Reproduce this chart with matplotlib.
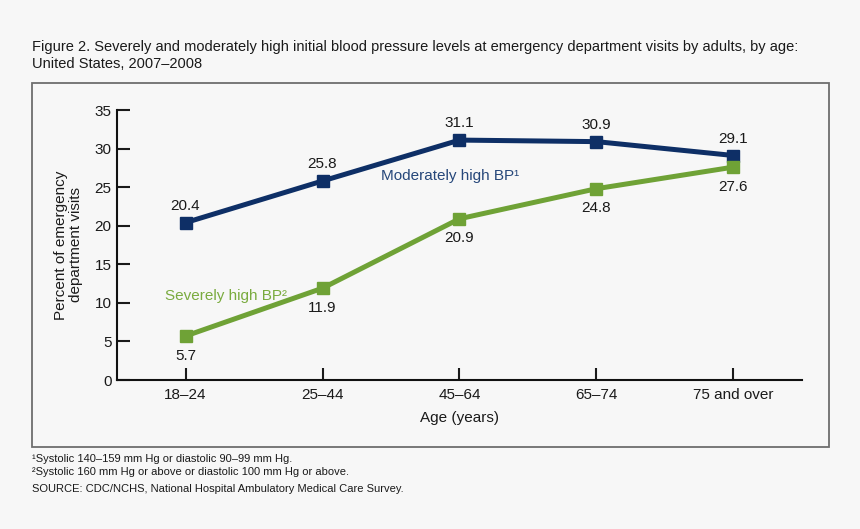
import matplotlib
matplotlib.use("Agg")
import matplotlib.pyplot as plt
from matplotlib.patches import Rectangle

# Data
age_groups = ["18–24", "25–44", "45–64", "65–74", "75 and over"]
moderate = [20.4, 25.8, 31.1, 30.9, 29.1]
severe = [5.7, 11.9, 20.9, 24.8, 27.6]
y_ticks = [0, 5, 10, 15, 20, 25, 30, 35]

navy = "#0e2f66"
green = "#6fa236"
bg = "#f7f7f7"

plt.rcParams['font.family'] = ['Liberation Sans', 'DejaVu Sans']

fig = plt.figure(figsize=(8.6, 5.29), dpi=100, facecolor=bg)

# outer frame box around the plotting region
fig.patches.append(Rectangle((32 / 860, 1 - 447 / 529), (829 - 32) / 860, (447 - 83) / 529,
                             transform=fig.transFigure, fill=False,
                             edgecolor="#6e6e6e", linewidth=1.3))

ax = fig.add_axes([117 / 860, 1 - 380 / 529, (802 - 117) / 860, (380 - 110) / 529])
ax.set_facecolor(bg)

x = list(range(len(age_groups)))
ax.plot(x, moderate, color=navy, linewidth=3.6, marker='s', markersize=9,
        solid_joinstyle='miter', zorder=3)
ax.plot(x, severe, color=green, linewidth=3.6, marker='s', markersize=9,
        solid_joinstyle='miter', zorder=3)

for xi, v in zip(x, moderate):
    ax.annotate(f"{v:.1f}", (xi, v), xytext=(0, 7), textcoords='offset points',
                ha='center', va='bottom', fontsize=11, color="#1a1a1a")
for xi, v in zip(x, severe):
    ax.annotate(f"{v:.1f}", (xi, v), xytext=(0, -9), textcoords='offset points',
                ha='center', va='top', fontsize=11, color="#1a1a1a")

ax.text(1.43, 26.5, "Moderately high BP¹", color="#26477a", fontsize=11,
        ha='left', va='center')
ax.text(-0.15, 10.9, "Severely high BP²", color="#7aab3f", fontsize=11,
        ha='left', va='center')

ax.set_xlim(-0.5, 4.5)
ax.set_ylim(0, 35)
ax.set_xticks(x)
ax.set_xticklabels(age_groups)
ax.set_yticks(y_ticks)
ax.tick_params(direction='in', length=9, width=1.5, labelsize=11, colors="#1a1a1a")
ax.tick_params(axis='x', pad=6)
ax.tick_params(axis='y', pad=4)

for side in ['top', 'right']:
    ax.spines[side].set_visible(False)
for side in ['left', 'bottom']:
    ax.spines[side].set_linewidth(1.5)
    ax.spines[side].set_color("#111111")

ax.set_xlabel("Age (years)", fontsize=11, labelpad=6, color="#1a1a1a")
ax.set_ylabel("Percent of emergency\ndepartment visits", fontsize=11, labelpad=8,
              color="#1a1a1a", linespacing=1.15)

fig.text(32 / 860, 1 - 40 / 529,
         "Figure 2. Severely and moderately high initial blood pressure levels at emergency department visits by adults, by age:\nUnited States, 2007–2008",
         fontsize=10.5, ha='left', va='top', color="#1a1a1a", linespacing=1.25)

fig.text(32 / 860, 1 - 459 / 529, "¹Systolic 140–159 mm Hg or diastolic 90–99 mm Hg.",
         fontsize=8, ha='left', va='center', color="#1a1a1a")
fig.text(32 / 860, 1 - 472 / 529, "²Systolic 160 mm Hg or above or diastolic 100 mm Hg or above.",
         fontsize=8, ha='left', va='center', color="#1a1a1a")
fig.text(32 / 860, 1 - 489 / 529, "SOURCE: CDC/NCHS, National Hospital Ambulatory Medical Care Survey.",
         fontsize=8, ha='left', va='center', color="#1a1a1a")

fig.savefig("out.png", dpi=100, facecolor=bg)
